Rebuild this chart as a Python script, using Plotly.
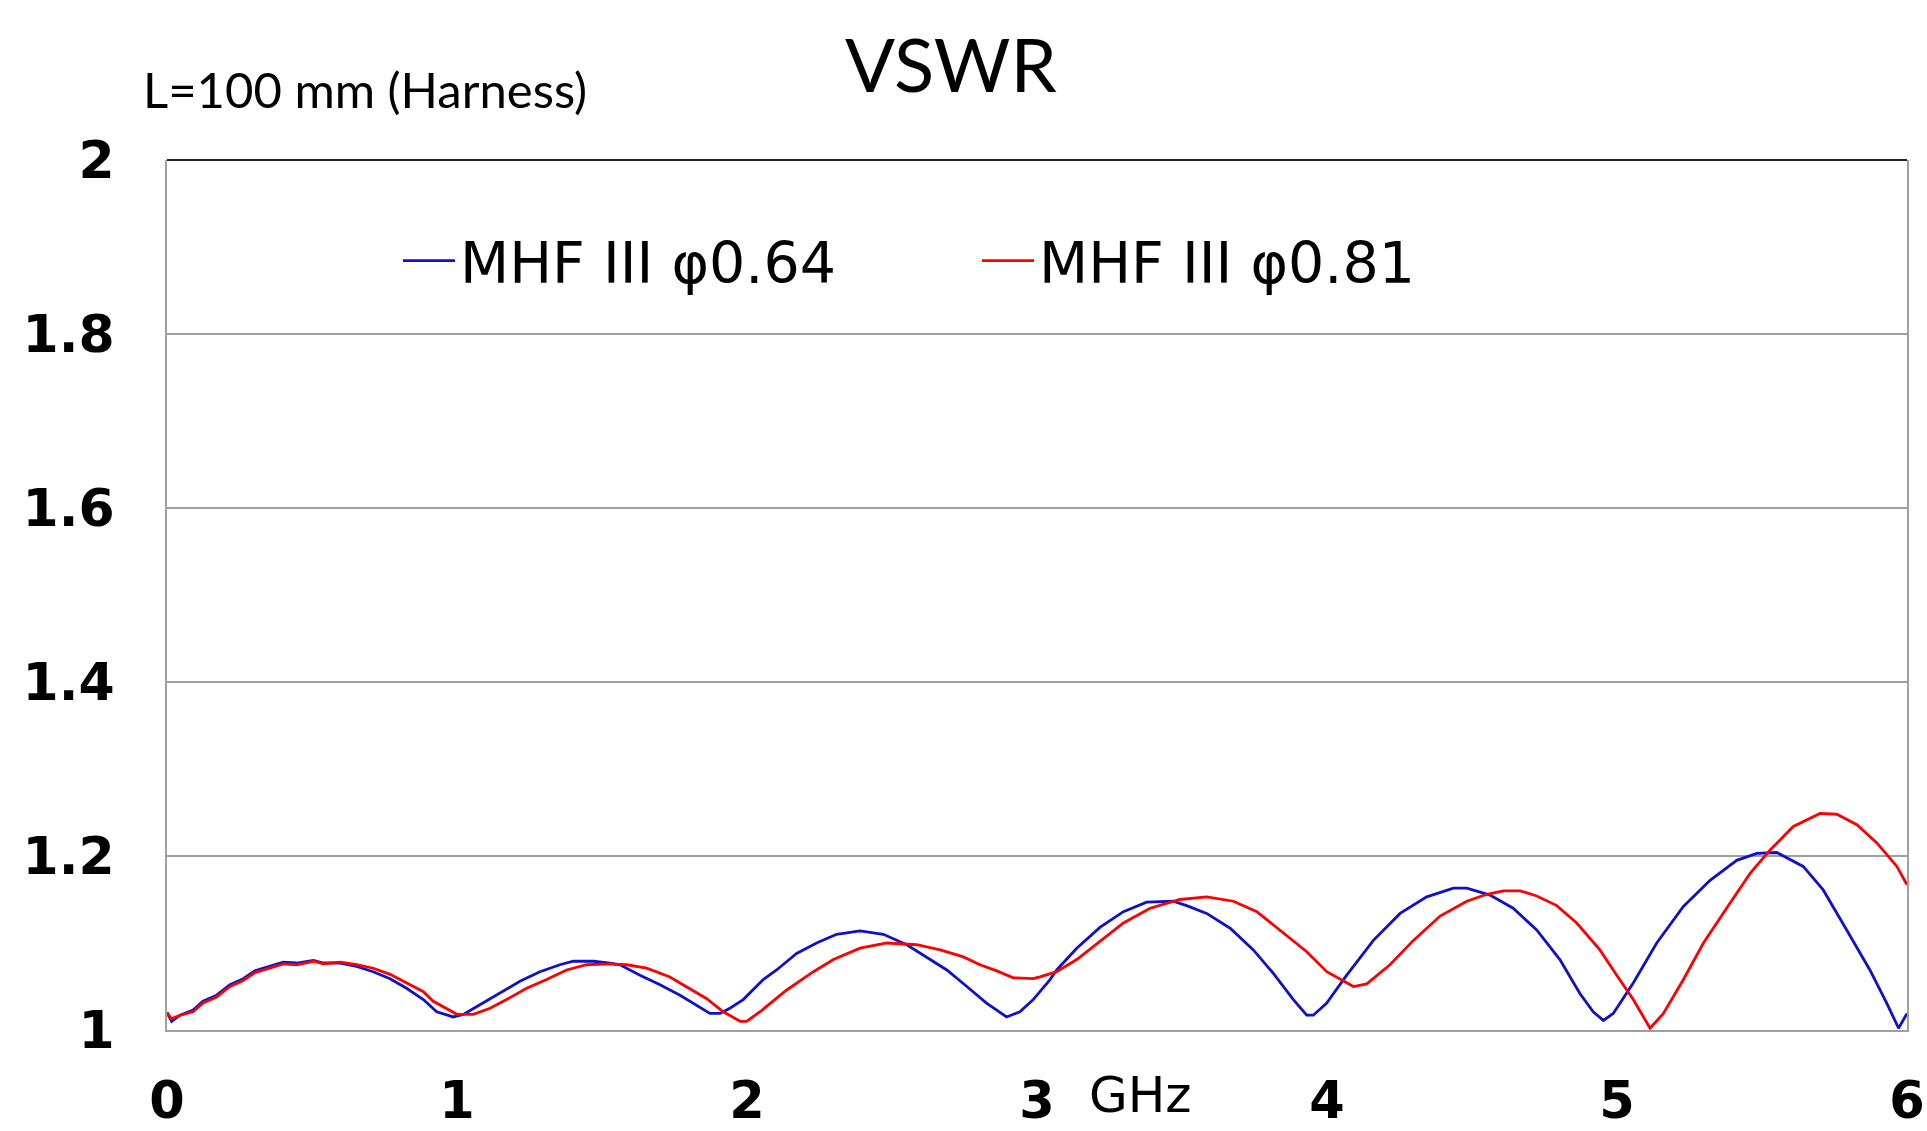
import plotly.graph_objects as go

# ---- data ----
freq_064 = [0.000, 0.016, 0.045, 0.090, 0.124, 0.171, 0.217, 0.263, 0.303, 0.344, 0.401, 0.447, 0.505, 0.539,
            0.597, 0.654, 0.711, 0.769, 0.826, 0.884, 0.930, 0.987, 1.022, 1.079, 1.137, 1.217, 1.286, 1.355,
            1.401, 1.470, 1.522, 1.562, 1.631, 1.700, 1.769, 1.826, 1.872, 1.907, 1.941, 1.987, 2.056, 2.102,
            2.171, 2.240, 2.309, 2.390, 2.470, 2.551, 2.620, 2.689, 2.758, 2.826, 2.895, 2.941, 2.987, 3.010,
            3.045, 3.068, 3.137, 3.217, 3.298, 3.378, 3.470, 3.516, 3.585, 3.666, 3.746, 3.815, 3.884, 3.930,
            3.953, 3.999, 4.068, 4.160, 4.252, 4.344, 4.436, 4.482, 4.562, 4.642, 4.723, 4.803, 4.872, 4.918,
            4.953, 4.987, 5.056, 5.137, 5.229, 5.321, 5.413, 5.482, 5.551, 5.642, 5.711, 5.792, 5.872, 5.930,
            5.971, 6.000]
vswr_064 = [1.020, 1.010, 1.017, 1.023, 1.033, 1.040, 1.052, 1.059, 1.068, 1.072, 1.078, 1.077, 1.080, 1.077,
            1.077, 1.073, 1.067, 1.059, 1.048, 1.035, 1.021, 1.015, 1.018, 1.029, 1.040, 1.056, 1.067, 1.075,
            1.079, 1.079, 1.077, 1.075, 1.063, 1.052, 1.040, 1.028, 1.019, 1.019, 1.025, 1.035, 1.058, 1.069,
            1.088, 1.100, 1.110, 1.114, 1.110, 1.098, 1.084, 1.069, 1.050, 1.031, 1.015, 1.021, 1.035, 1.044,
            1.058, 1.069, 1.094, 1.118, 1.136, 1.147, 1.148, 1.143, 1.134, 1.117, 1.092, 1.065, 1.035, 1.017,
            1.017, 1.031, 1.063, 1.103, 1.134, 1.153, 1.163, 1.163, 1.155, 1.140, 1.115, 1.081, 1.042, 1.021,
            1.011, 1.019, 1.054, 1.100, 1.142, 1.172, 1.195, 1.203, 1.204, 1.188, 1.161, 1.115, 1.069, 1.031,
            1.002, 1.019]

freq_081 = [0.000, 0.015, 0.045, 0.090, 0.124, 0.171, 0.217, 0.263, 0.303, 0.344, 0.401, 0.447, 0.505, 0.539,
            0.597, 0.654, 0.711, 0.769, 0.826, 0.884, 0.918, 0.964, 0.999, 1.056, 1.114, 1.171, 1.240, 1.309,
            1.378, 1.447, 1.522, 1.585, 1.654, 1.734, 1.792, 1.861, 1.918, 1.976, 1.999, 2.045, 2.137, 2.229,
            2.298, 2.390, 2.482, 2.585, 2.666, 2.746, 2.803, 2.861, 2.918, 2.987, 3.010, 3.068, 3.137, 3.217,
            3.298, 3.390, 3.493, 3.585, 3.677, 3.758, 3.838, 3.930, 3.999, 4.091, 4.137, 4.217, 4.298, 4.390,
            4.482, 4.551, 4.608, 4.666, 4.723, 4.792, 4.861, 4.941, 4.999, 5.056, 5.114, 5.160, 5.229, 5.298,
            5.390, 5.459, 5.528, 5.608, 5.700, 5.758, 5.827, 5.896, 5.965, 6.000]
vswr_081 = [1.020, 1.013, 1.017, 1.021, 1.031, 1.038, 1.050, 1.057, 1.066, 1.070, 1.076, 1.075, 1.079, 1.076,
            1.078, 1.075, 1.071, 1.064, 1.054, 1.044, 1.033, 1.025, 1.018, 1.018, 1.025, 1.035, 1.048, 1.058,
            1.069, 1.075, 1.076, 1.075, 1.071, 1.061, 1.050, 1.036, 1.021, 1.010, 1.010, 1.021, 1.046, 1.067,
            1.081, 1.094, 1.100, 1.098, 1.092, 1.084, 1.075, 1.068, 1.060, 1.059, 1.061, 1.067, 1.081, 1.102,
            1.123, 1.140, 1.150, 1.153, 1.148, 1.136, 1.115, 1.090, 1.067, 1.050, 1.053, 1.075, 1.103, 1.131,
            1.148, 1.156, 1.160, 1.160, 1.154, 1.143, 1.123, 1.092, 1.063, 1.035, 1.002, 1.019, 1.058, 1.100,
            1.146, 1.180, 1.207, 1.234, 1.249, 1.248, 1.236, 1.215, 1.188, 1.167]

series_names = ["MHF III φ0.64", "MHF III φ0.81"]
x_ticks = [0, 1, 2, 3, 4, 5, 6]
y_ticks = [1, 1.2, 1.4, 1.6, 1.8, 2]
y_tick_labels = ["1", "1.2", "1.4", "1.6", "1.8", "2"]
title_text = "VSWR"
subtitle_text = "L=100 mm (Harness)"
x_unit = "GHz"

# ---- figure ----
fig = go.Figure()
fig.add_trace(go.Scatter(x=freq_064, y=vswr_064, mode="lines", name=series_names[0],
                         line=dict(color="#1010c8", width=2.8)))
fig.add_trace(go.Scatter(x=freq_081, y=vswr_081, mode="lines", name=series_names[1],
                         line=dict(color="#ff0000", width=2.8)))

W, H = 1927, 1131
L, R, T, B = 167, 20, 160, 101
PW, PH = W - L - R, H - T - B


def px_x(px):
    return (px - L) / PW


def px_y(py):
    return (H - B - py) / PH


fig.update_layout(
    width=W, height=H, autosize=False,
    margin=dict(l=L, r=R, t=T, b=B, pad=0),
    paper_bgcolor="white", plot_bgcolor="white",
    font=dict(family="DejaVu Sans", color="black"),
    showlegend=True,
    legend=dict(orientation="h", x=px_x(398), y=px_y(261), xanchor="left", yanchor="middle",
                font=dict(family="DejaVu Sans", size=57, color="black"),
                bgcolor="rgba(0,0,0,0)", borderwidth=0,
                entrywidth=512, entrywidthmode="pixels", itemwidth=52,
                traceorder="normal"),
)

fig.update_xaxes(range=[0, 6], tickvals=x_ticks, ticktext=[str(v) for v in x_ticks],
                 showgrid=False, zeroline=False, ticks="", automargin=False,
                 showline=True, linecolor="#a0a0a0", linewidth=2, mirror=False,
                 tickfont=dict(family="DejaVu Sans", size=51, weight="bold", color="black"),
                 ticklabelstandoff=25)
fig.update_yaxes(range=[1, 2], tickvals=y_ticks, ticktext=y_tick_labels,
                 showgrid=True, gridcolor="#a0a0a0", gridwidth=1.4, zeroline=False, ticks="",
                 automargin=False,
                 showline=True, linecolor="#a0a0a0", linewidth=2, mirror=True,
                 tickfont=dict(family="DejaVu Sans", size=52, weight="bold", color="black"),
                 ticklabelstandoff=40)

# dark top frame line
fig.add_shape(type="line", xref="paper", yref="paper", x0=0, x1=1, y0=1, y1=1,
              line=dict(color="#222222", width=2))

# title and texts
fig.add_annotation(text=title_text, xref="paper", yref="paper",
                   x=px_x(951), y=px_y(63),
                   xanchor="center", yanchor="middle", showarrow=False,
                   font=dict(family="Lato", size=74, color="black"))
fig.add_annotation(text=subtitle_text, xref="paper", yref="paper",
                   x=px_x(141), y=px_y(89),
                   xanchor="left", yanchor="middle", showarrow=False,
                   font=dict(family="Lato", size=49, color="black"))
fig.add_annotation(text=x_unit, xref="paper", yref="paper",
                   x=px_x(1140), y=px_y(1095),
                   xanchor="center", yanchor="middle", showarrow=False,
                   font=dict(family="DejaVu Sans", size=50, color="black"))

fig.write_html("out.html",
               config={"displayModeBar": False, "staticPlot": True},
               post_script="document.body.style.margin='0';document.body.style.overflow='hidden';")
